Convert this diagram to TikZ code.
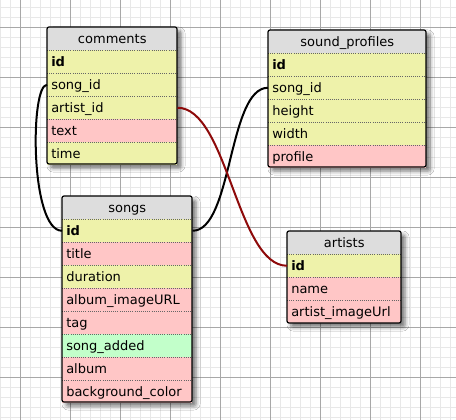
\documentclass[tikz,border=0pt]{standalone}
\usepackage{fontspec}
\setmainfont{DejaVu Sans}
\usetikzlibrary{shadows.blur}
\definecolor{hdrgray}{HTML}{DDDDDD}
\definecolor{yel}{HTML}{EEF2AA}
\definecolor{pnk}{HTML}{FFC6C6}
\definecolor{grn}{HTML}{C2FFCA}
\definecolor{fkred}{HTML}{8E0A0A}
\definecolor{gridminor}{HTML}{E8E8E8}
\definecolor{gridmajor}{HTML}{A8A8A8}
\tikzset{
  tbl/.style={draw=black, line width=0.9pt, rounded corners=1.5pt},
  tblbg/.style={fill=hdrgray, rounded corners=1.5pt,
    blur shadow={shadow xshift=3pt, shadow yshift=-3pt, shadow blur radius=3pt, shadow opacity=55}},
  hdr/.style={anchor=north west, minimum height=17.25pt, inner sep=0pt,
    align=center, text height=8.5pt, text depth=1.8pt},
  fld/.style={anchor=north west, minimum height=17.25pt, inner ysep=0pt, inner xsep=3pt,
    align=left, text height=8.5pt, text depth=1.8pt},
  sep/.style={densely dotted, draw=black!60, line width=0.6pt},
  link/.style={line width=1.5pt},
}
\begin{document}
\begin{tikzpicture}[x=0.75pt, y=-0.75pt, font=\fontsize{9.75}{11}\selectfont]
  \useasboundingbox (0,0) rectangle (456,420);
  \fill[white] (0,0) rectangle (456,420);
  % grid
  \foreach \x in {0,10,...,450} \draw[gridminor, line width=0.6pt] (\x,0) -- (\x,420);
  \foreach \y in {7,17,...,417} \draw[gridminor, line width=0.6pt] (0,\y) -- (456,\y);
  \foreach \x in {20,70,...,420} \draw[gridmajor, line width=0.7pt] (\x,0) -- (\x,420);
  \foreach \y in {27,77,...,377} \draw[gridmajor, line width=0.7pt] (0,\y) -- (456,\y);

  % comments
  \fill[tblbg] (47,27) rectangle (177,164);
  \node[hdr, text width=97.5pt] at (47,27) (cm0) {comments};
  \foreach \f/\c [count=\i] in {\textbf{id}/yel, song\_id/yel, artist\_id/yel, text/pnk, time/yel} {
    \node[fld, fill=\c, text width=91.5pt] at (47,27+23*\i) (cm\i) {\f};
    \draw[sep] (cm\i.north west) -- (cm\i.north east);
  }
  \draw[tbl] (47,27) rectangle (177,164);

  % sound_profiles
  \fill[tblbg] (268,30) rectangle (426,167);
  \node[hdr, text width=118.5pt] at (268,30) (sp0) {sound\_profiles};
  \foreach \f/\c [count=\i] in {\textbf{id}/yel, song\_id/yel, height/yel, width/yel, profile/pnk} {
    \node[fld, fill=\c, text width=112.5pt] at (268,30+23*\i) (sp\i) {\f};
    \draw[sep] (sp\i.north west) -- (sp\i.north east);
  }
  \draw[tbl] (268,30) rectangle (426,167);

  % songs
  \fill[tblbg] (62,196) rectangle (192,402);
  \node[hdr, text width=97.5pt] at (62,196) (sg0) {songs};
  \foreach \f/\c [count=\i] in {\textbf{id}/yel, title/pnk, duration/yel, album\_imageURL/pnk,
      tag/pnk, song\_added/grn, album/pnk, background\_color/pnk} {
    \node[fld, fill=\c, text width=91.5pt] at (62,196+23*\i) (sg\i) {\f};
    \draw[sep] (sg\i.north west) -- (sg\i.north east);
  }
  \draw[tbl] (62,196) rectangle (192,402);

  % artists
  \fill[tblbg] (287,231) rectangle (401,323);
  \node[hdr, text width=85.5pt] at (287,231) (ar0) {artists};
  \foreach \f/\c [count=\i] in {\textbf{id}/yel, name/pnk, artist\_imageUrl/pnk} {
    \node[fld, fill=\c, text width=79.5pt] at (287,231+23*\i) (ar\i) {\f};
    \draw[sep] (ar\i.north west) -- (ar\i.north east);
  }
  \draw[tbl] (287,231) rectangle (401,323);

  % relations
  \draw[link] (cm2.west) .. controls +(-17,0) and +(-32,0) .. (sg1.west);
  \draw[link] (sg1.east) .. controls +(40,0) and +(-40,0) .. (sp2.west);
  \draw[link, fkred] (cm3.east) .. controls +(50,0) and +(-50,0) .. (ar1.west);
\end{tikzpicture}
\end{document}
